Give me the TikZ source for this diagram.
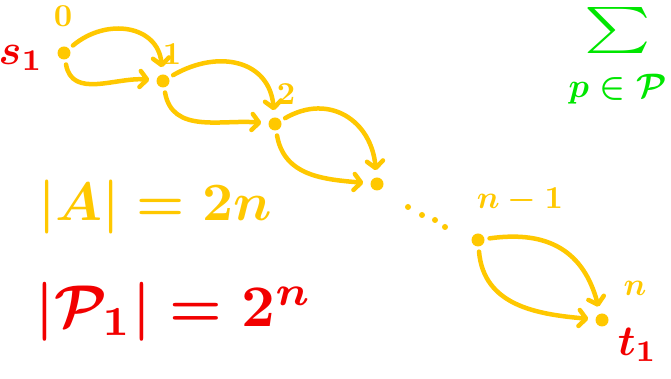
\documentclass[tikz,border=0pt]{standalone}
\usepackage{amsmath,amssymb}
\usepackage{xcolor}
\usepackage{tikz}
\usetikzlibrary{arrows.meta,positioning}

\definecolor{ylw}{HTML}{FFC800}
\definecolor{rd}{HTML}{F20000}
\definecolor{grn}{HTML}{00E600}

\begin{document}
\begin{tikzpicture}[x=1pt,y=1pt,
	vertex/.style={circle, fill=ylw, inner sep=0pt, minimum size=13pt},
	vlabel/.style={text=ylw, scale=3.2, inner sep=1pt, font=\boldmath},
	endlabel/.style={text=rd, scale=4.3, inner sep=1pt, font=\boldmath},
	arc/.style={draw=ylw, line width=4.5pt, line cap=round, ->, shorten >=7pt, shorten <=5pt},
	>={Straight Barb[length=7pt,width=16pt,round]}]
			\useasboundingbox (0,0) rectangle (671,379);
			\node[vertex] (v0) at (64,326) {};
			\node[vertex] (v1) at (163,298) {};
			\node[vertex] (v2) at (275,255) {};
			\node[vertex] (v3) at (377,195) {};
			\node[vertex] (v4) at (478,139) {};
			\node[vertex] (v5) at (602,59) {};
			
			\node[above=16pt of v0, xshift=-1pt, vlabel] (l0) {$0$};
			\node[above=6pt of v1, xshift=9pt, vlabel] (l1) {$1$};
			\node[above=9pt of v2, xshift=11pt, vlabel] (l2) {$2$};
			\node[above=17pt of v4, xshift=42pt, vlabel] (l4) {$n-1$};
			\node[above=14pt of v5, xshift=33pt, vlabel] (l5) {$n$};
			\node[left=9pt of v0, yshift=-5pt, endlabel] (s) {$s_1$};
			\node[right=4pt of v5, yshift=-25pt, endlabel] (t) {$t_1$};
			
			% two parallel edges between neighbours
			\draw[arc] (v0) to[out=40, in=95, looseness=1.3] (v1);
			\draw[arc] (v0) to[out=-80, in=175, looseness=1.1] (v1);
			\draw[arc] (v1) to[out=30, in=95, looseness=1.3] (v2);
			\draw[arc] (v1) to[out=-80, in=175, looseness=1.1] (v2);
			\draw[arc] (v2) to[out=30, in=95, looseness=1.3] (v3);
			\draw[arc] (v2) to[out=-80, in=175, looseness=1.1] (v3);
			\draw[arc] (v4) to[out=8, in=105, looseness=1.2] (v5);
			\draw[arc] (v4) to[out=-85, in=175, looseness=1.1] (v5);
			
			% dots between 3 and n-1
			\foreach \x/\y [count=\i] in {408/172, 422/164, 435/159, 445/152}
				\node[circle, fill=ylw, inner sep=0pt, minimum size=6pt] (d\i) at (\x,\y) {};
			
			\node[text=grn, inner sep=0pt, xscale=6.3, yscale=4.6, font=\boldmath] (sum) at (618,348) {$\sum$};
			\node[text=grn, scale=3.4, font=\boldmath] (pin) at (618,290) {$p\in\mathcal{P}$};
			
			\node[text=ylw, scale=5.4, font=\boldmath] (A) at (155,172) {$|A| = 2n$};
			\node[text=rd, scale=5.9, font=\boldmath] (P) at (174,67) {$|\mathcal{P}_1| = 2^n$};
		\end{tikzpicture}
\end{document}
